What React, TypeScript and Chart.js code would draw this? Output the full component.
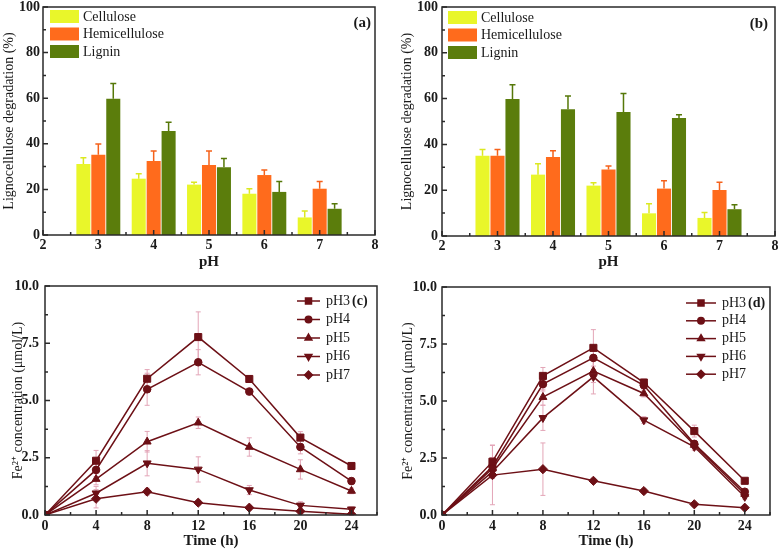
import React, { useEffect, useRef } from "react";
import { Chart, registerables } from "chart.js";
import { drawPoint } from "chart.js/helpers";

Chart.register(...registerables);

const FONT = "'Liberation Serif', 'Times New Roman', serif";
const TEXT = "#1a1a1a";

// ---------- bar panels (a) & (b) ----------
const phLevels = [3, 4, 5, 6, 7];
const barLabels = ["Cellulose", "Hemicellulose", "Lignin"];
const barColors = ["#e9f62a", "#ff6b1c", "#5b7d0c"];
const barErrColors = ["#dbe820", "#f5611a", "#567809"];
const barXTicks = [2, 3, 4, 5, 6, 7, 8];
const barXMinor = [2.5, 3.5, 4.5, 5.5, 6.5, 7.5];
const barYTicks = [0, 20, 40, 60, 80, 100];
const barYMinor = [10, 30, 50, 70, 90];

const celluloseA = [31.1, 24.7, 22.1, 18.1, 7.7];
const celluloseErrA = [2.8, 2.2, 1.0, 2.2, 2.8];
const hemicelluloseA = [35.2, 32.5, 30.7, 26.3, 20.3];
const hemicelluloseErrA = [4.7, 4.3, 6.1, 2.2, 3.2];
const ligninA = [59.8, 45.6, 29.7, 18.9, 11.5];
const ligninErrA = [6.6, 3.8, 3.8, 4.6, 2.2];

const celluloseB = [35.0, 26.8, 22.0, 9.9, 7.9];
const celluloseErrB = [2.8, 4.8, 1.3, 4.2, 2.4];
const hemicelluloseB = [35.0, 34.5, 29.0, 20.7, 20.1];
const hemicelluloseErrB = [2.8, 2.7, 1.6, 3.4, 3.4];
const ligninB = [59.8, 55.4, 54.1, 51.5, 11.7];
const ligninErrB = [6.2, 5.7, 8.1, 1.4, 2.0];

// ---------- line panels (c) & (d) ----------
const timeHours = [0, 4, 8, 12, 16, 20, 24];
const lineLabels = ["pH3", "pH4", "pH5", "pH6", "pH7"];
const lineXTicks = [0, 4, 8, 12, 16, 20, 24];
const lineXMinor = [2, 6, 10, 14, 18, 22, 26];
const lineYTicks = [0, 2.5, 5, 7.5, 10];
const lineYMinor = [1.25, 3.75, 6.25, 8.75];

const pH3C = [0, 2.37, 5.95, 7.77, 5.94, 3.38, 2.14];
const pH4C = [0, 1.97, 5.49, 6.67, 5.39, 2.97, 1.48];
const pH5C = [0, 1.57, 3.2, 4.03, 2.97, 1.99, 1.05];
const pH6C = [0, 0.95, 2.26, 1.99, 1.09, 0.42, 0.25];
const pH7C = [0, 0.71, 1.02, 0.54, 0.32, 0.16, 0.03];
const pH3CErr = [0, 0.45, 0.4, 1.1, 0.15, 0.26, 0.15];
const pH4CErr = [0, 0.3, 0.7, 0.55, 0.15, 0.3, 0.15];
const pH5CErr = [0, 0.25, 0.45, 0.25, 0.4, 0.42, 0.12];
const pH6CErr = [0, 0.3, 0.55, 0.55, 0.2, 0.16, 0.1];
const pH7CErr = [0, 0.4, 0.15, 0.1, 0.1, 0.1, 0.05];

const pH3D = [0, 2.34, 6.1, 7.33, 5.81, 3.68, 1.5];
const pH4D = [0, 2.12, 5.74, 6.89, 5.69, 3.12, 1.02];
const pH5D = [0, 2.04, 5.17, 6.31, 5.33, 3.07, 0.92];
const pH6D = [0, 1.9, 4.26, 6.06, 4.16, 2.99, 0.8];
const pH7D = [0, 1.75, 2.01, 1.5, 1.05, 0.47, 0.32];
const pH3DErr = [0, 0.73, 0.37, 0.8, 0.15, 0.26, 0.1];
const pH4DErr = [0, 0.4, 0.3, 0.5, 0.15, 0.15, 0.1];
const pH5DErr = [0, 0.3, 0.35, 0.5, 0.15, 0.15, 0.1];
const pH6DErr = [0, 0.3, 0.55, 0.75, 0.15, 0.15, 0.1];
const pH7DErr = [0, 1.3, 1.15, 0.1, 0.1, 0.1, 0.05];

const lineColor = "#6d1016";
const errPink = "#e3a5b7";
const pointStyles = [
  { style: "rect", rot: 0, r: 5 },
  { style: "circle", rot: 0, r: 3.8 },
  { style: "triangle", rot: 0, r: 4.6 },
  { style: "triangle", rot: 180, r: 4.6 },
  { style: "rectRot", rot: 0, r: 4.6 },
];

// ---------- plugins ----------
const framePlugin = {
  id: "frame",
  afterDraw(chart: any, _a: any, o: any) {
    const { ctx, chartArea: a } = chart;
    const x = chart.scales.x;
    const y = chart.scales.y;
    ctx.save();
    ctx.strokeStyle = "#2a2a2a";
    ctx.lineWidth = 1.5;
    ctx.beginPath();
    const tickX = (v: number, len: number) => {
      const px = x.getPixelForValue(v);
      ctx.moveTo(px, a.bottom);
      ctx.lineTo(px, a.bottom - len);
    };
    const tickY = (v: number, len: number) => {
      const py = y.getPixelForValue(v);
      ctx.moveTo(a.left, py);
      ctx.lineTo(a.left + len, py);
    };
    x.ticks.forEach((t: any) => tickX(t.value, 5));
    (o.xMinor || []).forEach((v: number) => tickX(v, 3));
    y.ticks.forEach((t: any) => tickY(t.value, 5));
    (o.yMinor || []).forEach((v: number) => tickY(v, 3));
    ctx.stroke();
    ctx.strokeRect(a.left, a.top, a.right - a.left, a.bottom - a.top);
    if (o.tag) {
      ctx.fillStyle = TEXT;
      ctx.font = `bold 15px ${FONT}`;
      ctx.textAlign = "right";
      ctx.textBaseline = "middle";
      ctx.fillText(o.tag, a.right - o.tagRight, a.top + o.tagTop);
    }
    ctx.restore();
  },
};

const barErrorPlugin = {
  id: "barErrors",
  afterDatasetsDraw(chart: any) {
    const { ctx } = chart;
    const ys = chart.scales.y;
    chart.data.datasets.forEach((ds: any, i: number) => {
      const meta = chart.getDatasetMeta(i);
      meta.data.forEach((el: any, j: number) => {
        const v = ds.data[j].y;
        const e = ds.errors[j];
        const yTop = ys.getPixelForValue(v + e);
        ctx.save();
        ctx.strokeStyle = ds.errorColor;
        ctx.lineWidth = 1.5;
        ctx.beginPath();
        ctx.moveTo(el.x, el.y);
        ctx.lineTo(el.x, yTop);
        ctx.moveTo(el.x - 3, yTop);
        ctx.lineTo(el.x + 3, yTop);
        ctx.stroke();
        ctx.restore();
      });
    });
  },
};

const barLegendPlugin = {
  id: "barLegend",
  afterDraw(chart: any, _a: any, o: any) {
    const { ctx, chartArea: a } = chart;
    ctx.save();
    chart.data.datasets.forEach((ds: any, i: number) => {
      const bx = a.left + o.left;
      const by = a.top + o.top + i * o.step;
      ctx.fillStyle = ds.backgroundColor;
      ctx.fillRect(bx, by, 29, 13);
      ctx.fillStyle = TEXT;
      ctx.font = `14px ${FONT}`;
      ctx.textAlign = "left";
      ctx.textBaseline = "middle";
      ctx.fillText(ds.label, bx + 33, by + 7);
    });
    ctx.restore();
  },
};

const lineErrorPlugin = {
  id: "lineErrors",
  beforeDatasetsDraw(chart: any) {
    const { ctx } = chart;
    const xs = chart.scales.x;
    const ys = chart.scales.y;
    ctx.save();
    ctx.strokeStyle = errPink;
    ctx.lineWidth = 1;
    ctx.beginPath();
    chart.data.datasets.forEach((ds: any) => {
      ds.data.forEach((p: any, j: number) => {
        const e = ds.errors[j];
        if (!e) return;
        const px = xs.getPixelForValue(p.x);
        const y1 = ys.getPixelForValue(p.y + e);
        const y2 = ys.getPixelForValue(p.y - e);
        ctx.moveTo(px, y1);
        ctx.lineTo(px, y2);
        ctx.moveTo(px - 2.5, y1);
        ctx.lineTo(px + 2.5, y1);
        ctx.moveTo(px - 2.5, y2);
        ctx.lineTo(px + 2.5, y2);
      });
    });
    ctx.stroke();
    ctx.restore();
  },
};

const lineLegendPlugin = {
  id: "lineLegend",
  afterDraw(chart: any, _a: any, o: any) {
    const { ctx, chartArea: a } = chart;
    ctx.save();
    chart.data.datasets.forEach((ds: any, i: number) => {
      const y = a.top + o.top + i * o.step;
      const x1 = a.right - o.lineStart;
      const x2 = a.right - o.lineEnd;
      ctx.strokeStyle = ds.borderColor;
      ctx.lineWidth = 1.5;
      ctx.beginPath();
      ctx.moveTo(x1, y);
      ctx.lineTo(x2, y);
      ctx.stroke();
      ctx.fillStyle = ds.backgroundColor;
      drawPoint(
        ctx,
        { pointStyle: ds.pointStyle, rotation: ds.pointRotation || 0, radius: ds.pointRadius * 0.85, borderWidth: 1 } as any,
        (x1 + x2) / 2,
        y
      );
      ctx.fillStyle = TEXT;
      ctx.font = `14px ${FONT}`;
      ctx.textAlign = "left";
      ctx.textBaseline = "middle";
      const tx = a.right - o.text;
      ctx.fillText(ds.label, tx, y);
      if (i === 0 && o.tag) {
        const w = ctx.measureText(ds.label).width;
        ctx.font = `bold 14px ${FONT}`;
        ctx.fillText(o.tag, tx + w + 2, y);
      }
    });
    ctx.restore();
  },
};

// ---------- configs ----------
type Geo = {
  yWidth: number;
  xHeight: number;
  padRight: number;
  padTop: number;
  yTitlePad: number;
  yTickPad: number;
  xTickPad: number;
  xTitleLH: number;
  xTitlePad: number;
};

function barConfig(values: number[][], errors: number[][], g: Geo, tag: string, legend: any, tagPos: any) {
  return {
    type: "bar",
    data: {
      datasets: barLabels.map((label, k) => ({
        label,
        data: phLevels.map((x, i) => ({ x, y: values[k][i] })),
        errors: errors[k],
        errorColor: barErrColors[k],
        backgroundColor: barColors[k],
        borderWidth: 0,
        categoryPercentage: 0.81,
        barPercentage: 0.94,
      })),
    },
    options: {
      responsive: false,
      maintainAspectRatio: false,
      animation: false,
      layout: { padding: { left: 0, right: g.padRight, top: g.padTop, bottom: 0 } },
      plugins: {
        legend: { display: false },
        tooltip: { enabled: false },
        frame: { xMinor: barXMinor, yMinor: barYMinor, tag, ...tagPos },
        barLegend: legend,
      },
      scales: {
        x: {
          type: "linear",
          min: 2,
          max: 8,
          offset: false,
          grid: { display: false, drawTicks: false },
          border: { display: false },
          afterBuildTicks: (s: any) => {
            s.ticks = barXTicks.map((v) => ({ value: v }));
          },
          ticks: {
            font: { family: FONT, size: 14, weight: "bold" },
            color: TEXT,
            padding: g.xTickPad,
            maxRotation: 0,
            autoSkip: false,
          },
          title: {
            display: true,
            text: "pH",
            font: { family: FONT, size: 15, weight: "bold", lineHeight: g.xTitleLH },
            color: TEXT,
            padding: { top: 0, bottom: g.xTitlePad },
          },
          afterFit: (s: any) => {
            s.height = g.xHeight;
            s.paddingLeft = 0;
            s.paddingRight = 0;
          },
        },
        y: {
          type: "linear",
          min: 0,
          max: 100,
          grid: { display: false, drawTicks: false },
          border: { display: false },
          afterBuildTicks: (s: any) => {
            s.ticks = barYTicks.map((v) => ({ value: v }));
          },
          ticks: {
            font: { family: FONT, size: 14, weight: "bold" },
            color: TEXT,
            padding: g.yTickPad,
          },
          title: {
            display: true,
            text: "Lignocellulose degradation (%)",
            font: { family: FONT, size: 14, lineHeight: 1.2 },
            color: TEXT,
            padding: { top: g.yTitlePad, bottom: 0 },
          },
          afterFit: (s: any) => {
            s.width = g.yWidth;
            s.paddingTop = 0;
            s.paddingBottom = 0;
          },
        },
      },
    },
    plugins: [barErrorPlugin, framePlugin, barLegendPlugin],
  };
}

function lineConfig(series: number[][], errors: number[][], g: Geo, legend: any) {
  return {
    type: "line",
    data: {
      datasets: lineLabels.map((label, k) => ({
        label,
        data: timeHours.map((x, i) => ({ x, y: series[k][i] })),
        errors: errors[k],
        borderColor: lineColor,
        backgroundColor: lineColor,
        borderWidth: 1.5,
        pointStyle: pointStyles[k].style,
        pointRotation: pointStyles[k].rot,
        pointRadius: pointStyles[k].r,
        pointBorderWidth: 1,
        tension: 0,
      })),
    },
    options: {
      responsive: false,
      maintainAspectRatio: false,
      animation: false,
      layout: { padding: { left: 0, right: g.padRight, top: g.padTop, bottom: 0 } },
      plugins: {
        legend: { display: false },
        tooltip: { enabled: false },
        frame: { xMinor: lineXMinor, yMinor: lineYMinor },
        lineLegend: legend,
      },
      scales: {
        x: {
          type: "linear",
          min: 0,
          max: 26,
          grid: { display: false, drawTicks: false },
          border: { display: false },
          afterBuildTicks: (s: any) => {
            s.ticks = lineXTicks.map((v) => ({ value: v }));
          },
          ticks: {
            font: { family: FONT, size: 14, weight: "bold" },
            color: TEXT,
            padding: g.xTickPad,
            maxRotation: 0,
            autoSkip: false,
          },
          title: {
            display: true,
            text: "Time (h)",
            font: { family: FONT, size: 15, weight: "bold", lineHeight: g.xTitleLH },
            color: TEXT,
            padding: { top: 0, bottom: g.xTitlePad },
          },
          afterFit: (s: any) => {
            s.height = g.xHeight;
            s.paddingLeft = 0;
            s.paddingRight = 0;
          },
        },
        y: {
          type: "linear",
          min: 0,
          max: 10,
          grid: { display: false, drawTicks: false },
          border: { display: false },
          afterBuildTicks: (s: any) => {
            s.ticks = lineYTicks.map((v) => ({ value: v }));
          },
          ticks: {
            font: { family: FONT, size: 14, weight: "bold" },
            color: TEXT,
            padding: g.yTickPad,
            callback: (v: any) => Number(v).toFixed(1),
          },
          title: {
            display: true,
            text: "Fe²⁺ concentration (μmol/L)",
            font: { family: FONT, size: 14, lineHeight: 1.2 },
            color: TEXT,
            padding: { top: g.yTitlePad, bottom: 0 },
          },
          afterFit: (s: any) => {
            s.width = g.yWidth;
            s.paddingTop = 0;
            s.paddingBottom = 0;
          },
        },
      },
    },
    plugins: [lineErrorPlugin, framePlugin, lineLegendPlugin],
  };
}

function ChartPanel(props: { left: number; top: number; width: number; height: number; make: () => any }) {
  const ref = useRef<HTMLCanvasElement | null>(null);
  useEffect(() => {
    const chart = new Chart(ref.current as HTMLCanvasElement, props.make());
    return () => chart.destroy();
  }, []);
  return (
    <canvas
      ref={ref}
      width={props.width}
      height={props.height}
      style={{ position: "absolute", left: props.left, top: props.top, width: props.width, height: props.height }}
    />
  );
}

export default function App() {
  const geoA: Geo = { yWidth: 43, xHeight: 35, padRight: 15, padTop: 7, yTitlePad: 1, yTickPad: 3, xTickPad: 2, xTitleLH: 1, xTitlePad: 0 };
  const geoB: Geo = { yWidth: 52, xHeight: 34, padRight: 5, padTop: 7, yTitlePad: 9, yTickPad: 4, xTickPad: 2, xTitleLH: 1, xTitlePad: 0 };
  const geoC: Geo = { yWidth: 45, xHeight: 36, padRight: 13, padTop: 16, yTitlePad: 9.6, yTickPad: 6, xTickPad: 3, xTitleLH: 1.2, xTitlePad: 1.3 };
  const geoD: Geo = { yWidth: 52, xHeight: 36, padRight: 10, padTop: 17, yTitlePad: 9.6, yTickPad: 5, xTickPad: 3, xTitleLH: 1.2, xTitlePad: 1.3 };

  return (
    <div style={{ position: "absolute", left: 0, top: 0, width: 780, height: 551, background: "#fff", overflow: "hidden" }}>
      <ChartPanel
        left={0}
        top={0}
        width={390}
        height={270}
        make={() =>
          barConfig(
            [celluloseA, hemicelluloseA, ligninA],
            [celluloseErrA, hemicelluloseErrA, ligninErrA],
            geoA,
            "(a)",
            { left: 7, top: 3, step: 17.5 },
            { tagRight: 4, tagTop: 16 }
          )
        }
      />
      <ChartPanel
        left={390}
        top={0}
        width={390}
        height={270}
        make={() =>
          barConfig(
            [celluloseB, hemicelluloseB, ligninB],
            [celluloseErrB, hemicelluloseErrB, ligninErrB],
            geoB,
            "(b)",
            { left: 6, top: 4, step: 17.5 },
            { tagRight: 7, tagTop: 17 }
          )
        }
      />
      <ChartPanel
        left={0}
        top={270}
        width={390}
        height={281}
        make={() =>
          lineConfig(
            [pH3C, pH4C, pH5C, pH6C, pH7C],
            [pH3CErr, pH4CErr, pH5CErr, pH6CErr, pH7CErr],
            geoC,
            { top: 15, step: 18.5, lineStart: 80, lineEnd: 57, text: 51, tag: "(c)" }
          )
        }
      />
      <ChartPanel
        left={390}
        top={270}
        width={390}
        height={281}
        make={() =>
          lineConfig(
            [pH3D, pH4D, pH5D, pH6D, pH7D],
            [pH3DErr, pH4DErr, pH5DErr, pH6DErr, pH7DErr],
            geoD,
            { top: 16, step: 17.8, lineStart: 84, lineEnd: 54, text: 48, tag: "(d)" }
          )
        }
      />
    </div>
  );
}
